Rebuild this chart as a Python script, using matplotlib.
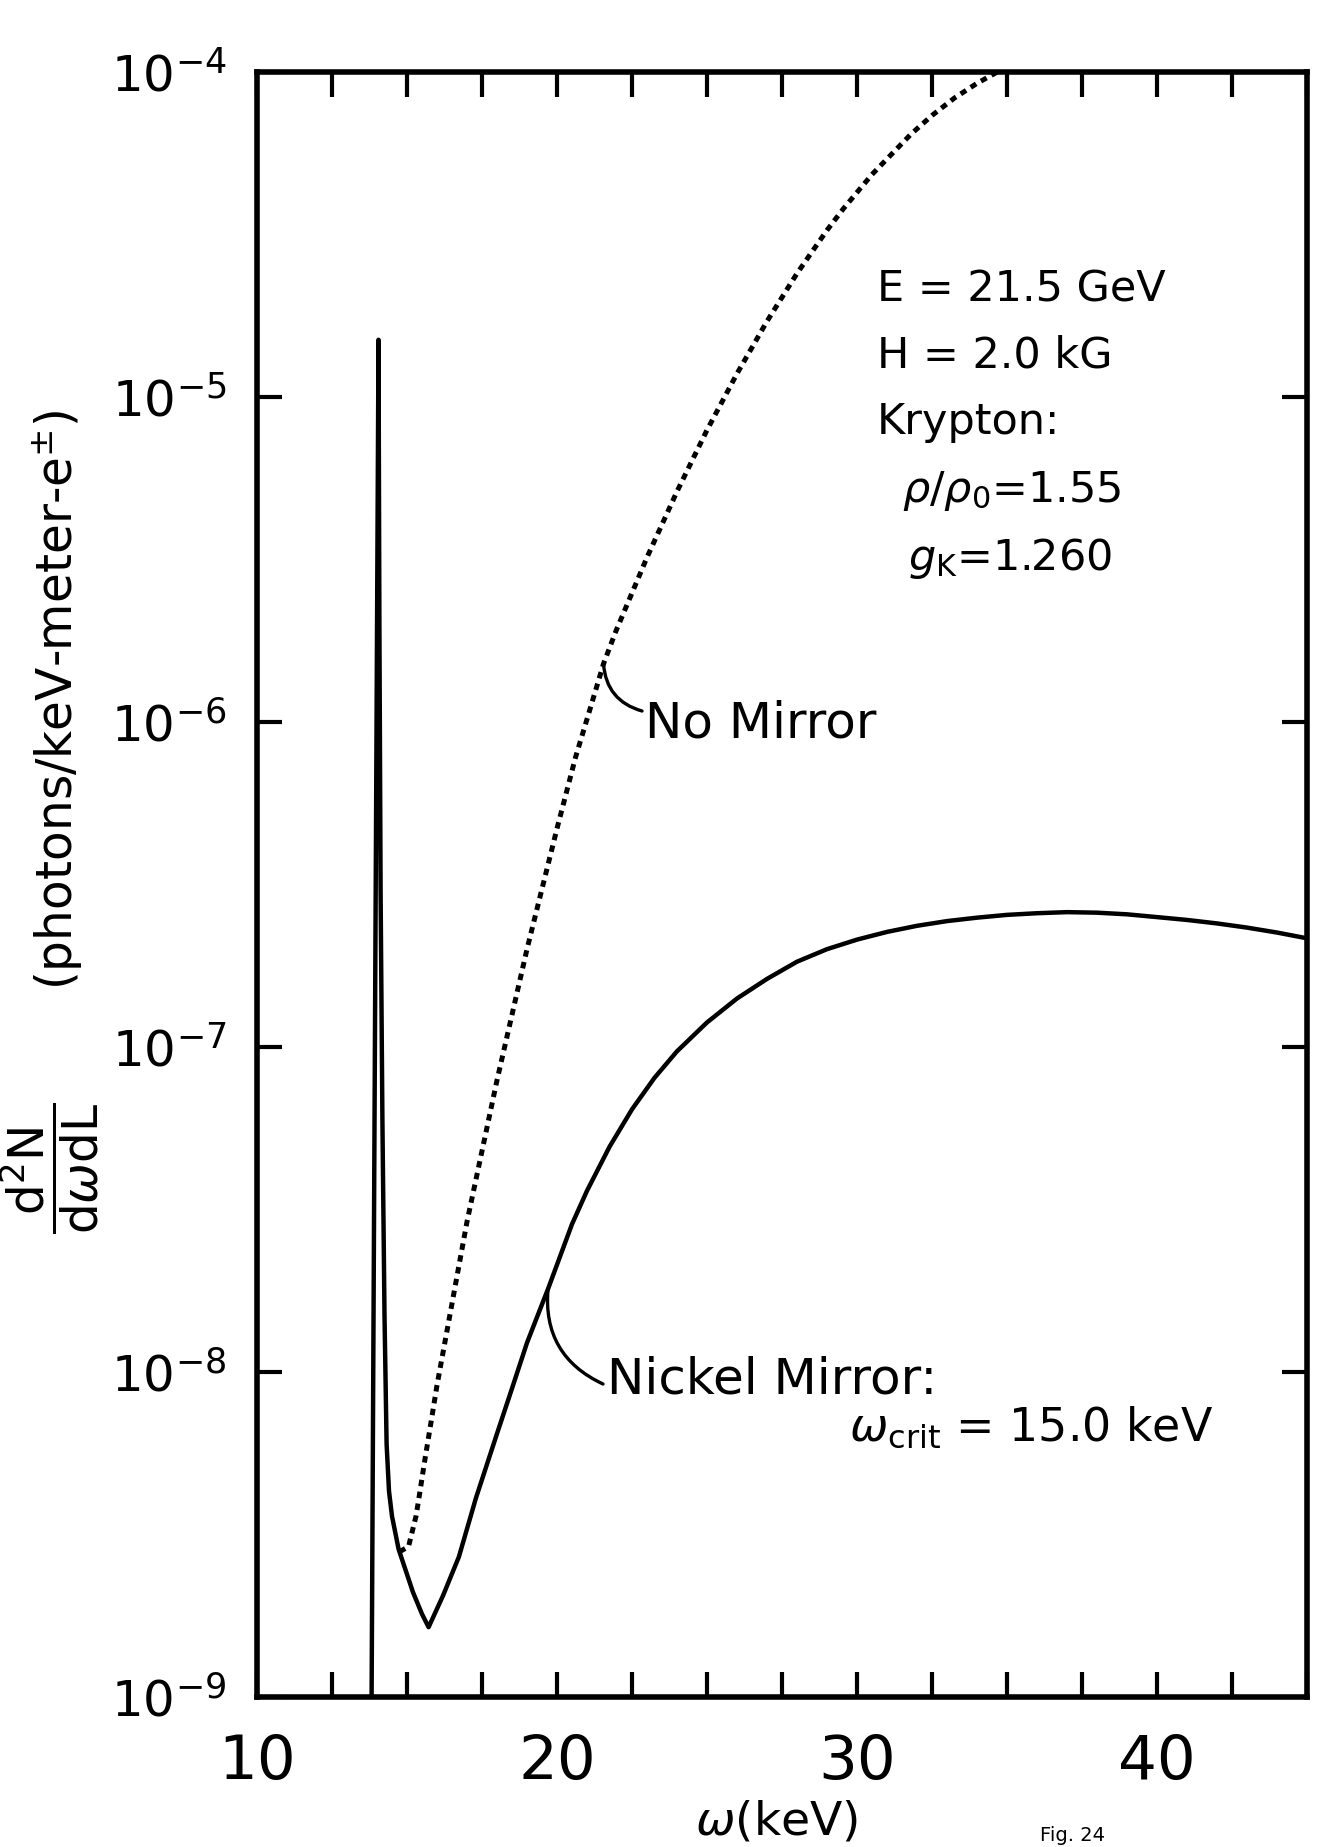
import matplotlib
matplotlib.use("Agg")
import matplotlib.pyplot as plt

# ---------------- data ----------------
# Nickel mirror (solid curve), photons/keV-meter-e
nickel_x = [13.82, 14.05, 14.08, 14.12, 14.18, 14.25, 14.32, 14.40, 14.50, 14.72,
            15.20, 15.50, 15.72, 16.20, 16.73, 17.30, 18.00, 18.50, 19.00, 19.70,
            20.50, 21.00, 21.75, 22.50, 23.25, 24.00, 25.00, 26.00, 27.00, 28.00,
            29.00, 30.00, 31.00, 32.00, 33.00, 34.00, 35.00, 36.00, 37.00, 38.00,
            39.00, 40.00, 41.00, 42.00, 43.00, 44.00, 45.00]
nickel_y = [1.0e-9, 1.5e-5, 2.0e-6, 3.0e-7, 6.0e-8, 1.5e-8, 6.0e-9, 4.3e-9, 3.6e-9, 2.85e-9,
            2.1e-9, 1.8e-9, 1.64e-9, 2.05e-9, 2.7e-9, 4.1e-9, 6.46e-9, 8.9e-9, 1.23e-8, 1.8e-8,
            2.85e-8, 3.61e-8, 4.93e-8, 6.43e-8, 8.04e-8, 9.7e-8, 1.19e-7, 1.41e-7, 1.62e-7, 1.83e-7,
            2.0e-7, 2.14e-7, 2.26e-7, 2.36e-7, 2.44e-7, 2.5e-7, 2.55e-7, 2.58e-7, 2.6e-7, 2.59e-7,
            2.56e-7, 2.51e-7, 2.46e-7, 2.4e-7, 2.33e-7, 2.25e-7, 2.16e-7]

# No mirror (dotted curve)
nomirror_x = [14.75, 15.05, 15.30, 15.39, 15.60, 15.80, 16.00, 17.00, 18.00, 19.00,
              20.00, 20.62, 21.00, 21.55, 21.96, 23.00, 24.00, 25.00, 26.00, 27.00,
              28.00, 29.00, 29.55, 30.50, 31.80, 32.50, 33.25, 34.00, 34.66, 35.00]
nomirror_y = [2.8e-9, 2.9e-9, 3.6e-9, 4.05e-9, 5.4e-9, 7.0e-9, 9.1e-9, 2.9e-8, 7.9e-8, 2.0e-7,
              4.7e-7, 7.8e-7, 1.02e-6, 1.51e-6, 1.9e-6, 3.21e-6, 5.12e-6, 7.91e-6, 1.18e-5, 1.71e-5,
              2.4e-5, 3.26e-5, 3.8e-5, 4.84e-5, 6.44e-5, 7.35e-5, 8.32e-5, 9.23e-5, 9.98e-5, 1.02e-4]

x_ticks = [10, 12.5, 15, 17.5, 20, 22.5, 25, 27.5, 30, 32.5, 35, 37.5, 40, 42.5, 45]
x_tick_labels = ["10", "", "", "", "20", "", "", "", "30", "", "", "", "40", "", ""]
y_ticks = [1e-9, 1e-8, 1e-7, 1e-6, 1e-5, 1e-4]
y_tick_labels = [r"$10^{-9}$", r"$10^{-8}$", r"$10^{-7}$", r"$10^{-6}$", r"$10^{-5}$", r"$10^{-4}$"]

# ---------------- figure ----------------
W, H = 1324, 1847
plt.rcParams["font.family"] = ["DejaVu Sans"]
plt.rcParams["mathtext.fontset"] = "dejavusans"
fig = plt.figure(figsize=(W / 100, H / 100), dpi=100)
fig.patch.set_facecolor("white")

L, R, T, B = 257, 1307, 72, 1697
ax = fig.add_axes([L / W, 1 - B / H, (R - L) / W, (B - T) / H])
ax.set_yscale("log")
ax.set_xlim(10, 45)
ax.set_ylim(1e-9, 1e-4)

ax.plot(nickel_x, nickel_y, color="black", lw=3.2, solid_joinstyle="round")
ax.plot(nomirror_x, nomirror_y, color="black", lw=3.6, linestyle=(0, (1.3, 1.1)))

ax.set_xticks(x_ticks)
ax.set_xticklabels(x_tick_labels)
ax.set_yticks(y_ticks)
ax.set_yticklabels(y_tick_labels)
ax.minorticks_off()
ax.tick_params(axis="both", direction="in", length=18, width=3.0, top=True, right=True,
               colors="black")
ax.tick_params(axis="x", labelsize=44, pad=26)
ax.tick_params(axis="y", labelsize=36, pad=22)
for s in ax.spines.values():
    s.set_linewidth(4.0)
    s.set_color("black")


def fx(px):
    return px / W


def fy(py):
    return 1 - py / H


# axis labels
fig.text(fx(777), fy(1822), r"$\omega$(keV)", fontsize=34, ha="center", va="center")
fig.text(fx(1040), fy(1826), "Fig. 24", fontsize=14, ha="left", va="top")
fig.text(fx(58), fy(700), r"(photons/keV-meter-e$^{\pm}$)", fontsize=35, rotation=90,
         ha="center", va="center")
fig.text(fx(50), fy(1168),
         r"$\dfrac{\mathrm{d}^2\mathrm{N}}{\mathrm{d}\omega\mathrm{dL}}$",
         fontsize=35, rotation=90, ha="center", va="center")

# parameter box
fs = 31
fig.text(fx(877), fy(302), "E = 21.5 GeV", fontsize=fs, va="baseline")
fig.text(fx(877), fy(367), "H = 2.0 kG", fontsize=fs, va="baseline")
fig.text(fx(877), fy(434), "Krypton:", fontsize=fs, va="baseline")
fig.text(fx(902), fy(502), r"$\rho/\rho_0$=1.55", fontsize=fs, va="baseline")
fig.text(fx(908), fy(570), r"$g_{\mathrm{K}}$=1.260", fontsize=fs, va="baseline")

# curve labels
fig.text(fx(645), fy(737), "No Mirror", fontsize=36, va="baseline")
fig.text(fx(607), fy(1393), "Nickel Mirror:", fontsize=36, va="baseline")
fig.text(fx(849), fy(1440), r"$\omega_{\mathrm{crit}}$ = 15.0 keV", fontsize=33, va="baseline")

ax.annotate("", xy=(nomirror_x[13], nomirror_y[13]), xycoords="data",
            xytext=(642, H - 711), textcoords="figure pixels",
            arrowprops=dict(arrowstyle="-", lw=2.4, color="black", shrinkA=0, shrinkB=0,
                            connectionstyle="arc3,rad=-0.35"))
ax.annotate("", xy=(nickel_x[19], nickel_y[19]), xycoords="data",
            xytext=(603, H - 1384), textcoords="figure pixels",
            arrowprops=dict(arrowstyle="-", lw=2.4, color="black", shrinkA=0, shrinkB=0,
                            connectionstyle="arc3,rad=-0.35"))

fig.savefig("out.png", dpi=100, facecolor="white")
